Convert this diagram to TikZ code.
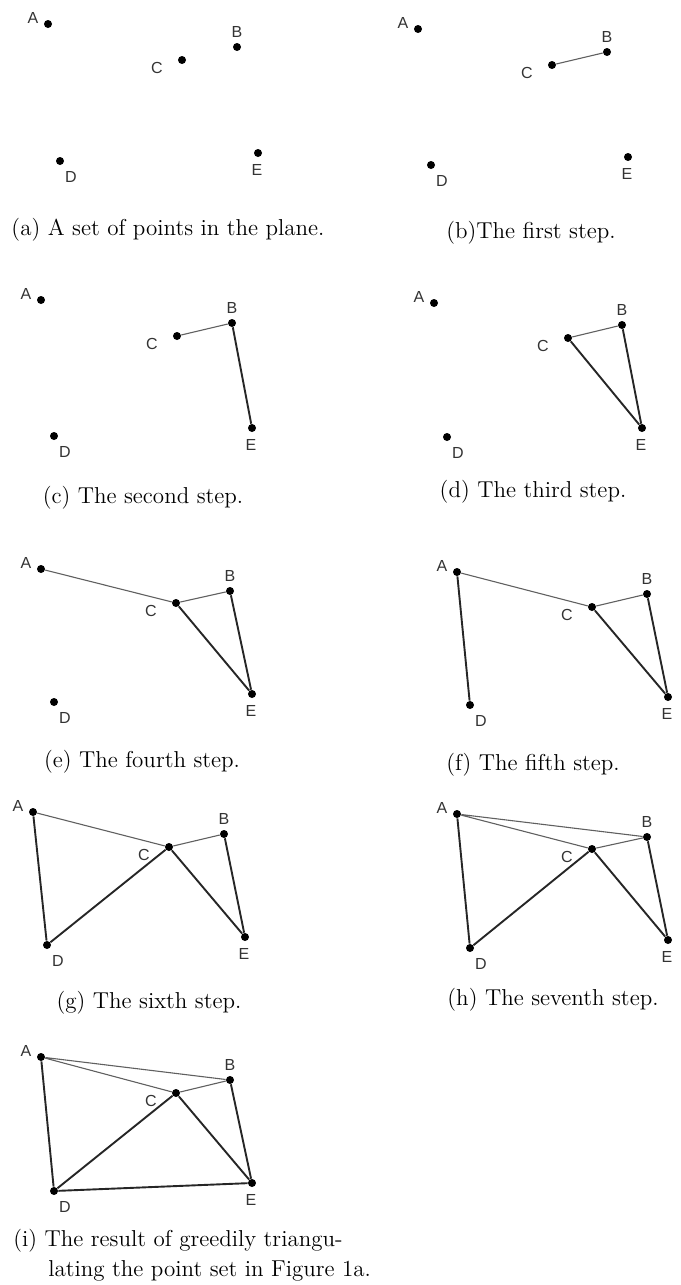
\documentclass[tikz,border=0pt]{standalone}
\usepackage{fontspec}
\newfontfamily\ptfont{Liberation Sans}

\begin{document}
\begin{tikzpicture}[
  x=0.5pt,y=-0.5pt,
  pt/.style={circle,fill=black,inner sep=0pt,minimum size=4pt},
  lbl/.style={font=\ptfont\fontsize{8}{9}\selectfont,inner sep=0pt,text=black!80},
  labA/.style={label={[lbl,xshift=-7.5pt,yshift=3pt]center:A}},
  labB/.style={label={[lbl,yshift=7.5pt]center:B}},
  labC/.style={label={[lbl,xshift=-12.5pt,yshift=-4pt]center:C}},
  labD/.style={label={[lbl,xshift=5.5pt,yshift=-8pt]center:D}},
  labE/.style={label={[lbl,xshift=-0.5pt,yshift=-8.5pt]center:E}},
  lightedge/.style={line width=0.55pt,gray!75!black},
  darkedge/.style={line width=0.95pt,black!85},
  captxt/.style={font=\fontsize{11.5}{15}\selectfont,inner sep=0pt}
]
\useasboundingbox (0,0) rectangle (680,1285);

% ---- (a) the point set ----
\node[pt,labA] (aA) at (48,24) {};
\node[pt,labB] (aB) at (237,47) {};
\node[pt,labC] (aC) at (182,60) {};
\node[pt,labD] (aD) at (60,161) {};
\node[pt,labE] (aE) at (258,153) {};
\node[captxt] (capa) at (168,230) {(a) A set of points in the plane.};

% ---- (b) first step ----
\node[pt,labA] (bA) at (418,29) {};
\node[pt,labB] (bB) at (607,52) {};
\node[pt,labC] (bC) at (552,65) {};
\node[pt,labD] (bD) at (431,165) {};
\node[pt,labE] (bE) at (628,157) {};
\draw[lightedge] (bC)--(bB);
\node[captxt] (capb) at (531,233) {(b)The first step.};

% ---- (c) second step ----
\node[pt,labA] (cA) at (41,300) {};
\node[pt,labB] (cB) at (232,323) {};
\node[pt,labC] (cC) at (177,336) {};
\node[pt,labD] (cD) at (54,436) {};
\node[pt,labE] (cE) at (252,428) {};
\draw[lightedge] (cC)--(cB);
\draw[darkedge] (cB)--(cE);
\node[captxt] (capc) at (143,498) {(c) The second step.};

% ---- (d) third step ----
\node[pt,labA] (dA) at (434,303) {};
\node[pt,labB] (dB) at (622,325) {};
\node[pt,labC] (dC) at (568,338) {};
\node[pt,labD] (dD) at (447,437) {};
\node[pt,labE] (dE) at (642,428) {};
\draw[lightedge] (dC)--(dB);
\draw[darkedge] (dB)--(dE) (dC)--(dE);
\node[captxt] (capd) at (533,492) {(d) The third step.};

% ---- (e) fourth step ----
\node[pt,labA] (eA) at (41,569) {};
\node[pt,labB] (eB) at (230,591) {};
\node[pt,labC] (eC) at (176,603) {};
\node[pt,labD] (eD) at (54,702) {};
\node[pt,labE] (eE) at (252,694) {};
\draw[lightedge] (eC)--(eB) (eA)--(eC);
\draw[darkedge] (eB)--(eE) (eC)--(eE);
\node[captxt] (cape) at (142,762) {(e) The fourth step.};

% ---- (f) fifth step ----
\node[pt,labA] (fA) at (457,572) {};
\node[pt,labB] (fB) at (647,594) {};
\node[pt,labC] (fC) at (592,607) {};
\node[pt,labD] (fD) at (470,705) {};
\node[pt,labE] (fE) at (668,697) {};
\draw[lightedge] (fC)--(fB) (fA)--(fC);
\draw[darkedge] (fB)--(fE) (fC)--(fE) (fA)--(fD);
\node[captxt] (capf) at (533,765) {(f) The fifth step.};

% ---- (g) sixth step ----
\node[pt,labA] (gA) at (33,812) {};
\node[pt,labB] (gB) at (224,834) {};
\node[pt,labC] (gC) at (169,847) {};
\node[pt,labD] (gD) at (47,945) {};
\node[pt,labE] (gE) at (245,937) {};
\draw[lightedge] (gC)--(gB) (gA)--(gC);
\draw[darkedge] (gB)--(gE) (gC)--(gE) (gA)--(gD) (gC)--(gD);
\node[captxt] (capg) at (149,1003) {(g) The sixth step.};

% ---- (h) seventh step ----
\node[pt,labA] (hA) at (457,814) {};
\node[pt,labB] (hB) at (647,837) {};
\node[pt,labC] (hC) at (592,849) {};
\node[pt,labD] (hD) at (470,948) {};
\node[pt,labE] (hE) at (668,940) {};
\draw[lightedge] (hC)--(hB) (hA)--(hC) (hA)--(hB);
\draw[darkedge] (hB)--(hE) (hC)--(hE) (hA)--(hD) (hC)--(hD);
\node[captxt] (caph) at (553,1000) {(h) The seventh step.};

% ---- (i) final triangulation ----
\node[pt,labA] (iA) at (41,1057) {};
\node[pt,labB] (iB) at (230,1080) {};
\node[pt,labC] (iC) at (176,1093) {};
\node[pt,labD] (iD) at (54,1191) {};
\node[pt,labE] (iE) at (252,1183) {};
\draw[lightedge] (iC)--(iB) (iA)--(iC) (iA)--(iB);
\draw[darkedge] (iB)--(iE) (iC)--(iE) (iA)--(iD) (iC)--(iD) (iD)--(iE);
\node[captxt,align=left,anchor=north west] (capi) at (13,1229)
  {(i) The result of greedily triangu-\\\hspace*{17.5pt}lating the point set in Figure 1a.};

\end{tikzpicture}
\end{document}
